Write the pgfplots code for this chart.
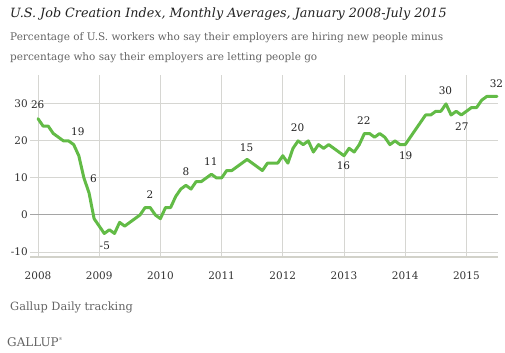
\documentclass[border=0pt]{standalone}
\usepackage{pgfplots}
\pgfplotsset{compat=1.18}
\usepackage{fontspec}
\setmainfont{DejaVu Serif}
\definecolor{jcgreen}{RGB}{98,187,70}
\definecolor{gridgray}{RGB}{214,214,210}
\definecolor{zerogray}{RGB}{165,165,165}
\definecolor{basegray}{RGB}{210,210,202}
\definecolor{titlecol}{RGB}{34,34,34}
\definecolor{subcol}{RGB}{100,100,100}
\definecolor{tickcol}{RGB}{50,50,50}
\pgfplotstableread{
k v
0 26
1 24
2 24
3 22
4 21
5 20
6 20
7 19
8 16
9 10
10 6
11 -1
12 -3
13 -5
14 -4
15 -5
16 -2
17 -3
18 -2
19 -1
20 0
21 2
22 2
23 0
24 -1
25 2
26 2
27 5
28 7
29 8
30 7
31 9
32 9
33 10
34 11
35 10
36 10
37 12
38 12
39 13
40 14
41 15
42 14
43 13
44 12
45 14
46 14
47 14
48 16
49 14
50 18
51 20
52 19
53 20
54 17
55 19
56 18
57 19
58 18
59 17
60 16
61 18
62 17
63 19
64 22
65 22
66 21
67 22
68 21
69 19
70 20
71 19
72 19
73 21
74 23
75 25
76 27
77 27
78 28
79 28
80 30
81 27
82 28
83 27
84 28
85 29
86 29
87 31
88 32
89 32
90 32
}\jobdata
\begin{document}
\begin{tikzpicture}
\path[use as bounding box] (0bp,0bp) rectangle (505bp,353bp);
\node[anchor=base west, inner sep=0pt, font=\fontsize{12.8}{15}\selectfont\itshape, text=titlecol] at (10bp,335bp) {U.S. Job Creation Index, Monthly Averages, January 2008-July 2015};
\node[anchor=base west, inner sep=0pt, font=\fontsize{10.5}{14}\selectfont, text=subcol] at (10bp,312.3bp) {Percentage of U.S. workers who say their employers are hiring new people minus};
\node[anchor=base west, inner sep=0pt, font=\fontsize{10.5}{14}\selectfont, text=subcol] at (10bp,292bp) {percentage who say their employers are letting people go};
\node[anchor=base west, inner sep=0pt, font=\fontsize{11.4}{14}\selectfont, text=subcol] at (10bp,42bp) {Gallup Daily tracking};
\node[anchor=base west, inner sep=0pt, font=\fontsize{12}{14}\selectfont, text=subcol] at (7bp,7bp) {GALLUP\raisebox{0.9ex}{\fontsize{4}{5}\selectfont\textregistered}};
\begin{axis}[
  at={(30bp,96bp)}, anchor=south west, scale only axis,
  width=468bp, height=182bp,
  xmin=-1.57, xmax=90.2, ymin=-11.35, ymax=37.8,
  axis line style={draw=none}, major tick length=0pt,
  xtick={0,12,24,36,48,60,72,84},
  xticklabels={2008,2009,2010,2011,2012,2013,2014,2015},
  ytick={-10,10,20,30},
  extra y ticks={0},
  extra y tick style={grid=major, major grid style={zerogray, line width=1bp}},
  xmajorgrids, ymajorgrids,
  major grid style={gridgray, line width=0.9bp},
  ticklabel style={font=\fontsize{10.5}{13}\selectfont, text=tickcol},
  yticklabel style={anchor=east, inner sep=0pt, xshift=-2bp},
  xticklabel style={anchor=north, inner sep=0pt, yshift=-15bp},
  /pgf/number format/assume math mode=true,
  clip=false,
]
\draw[basegray, line width=2.3bp] (rel axis cs:0,0) -- (rel axis cs:1,0);
\addplot[jcgreen, line width=3bp, line join=round, line cap=round, no marks] table[x=k, y=v] {\jobdata};
\begin{scope}[every node/.style={font=\fontsize{10.5}{13}\selectfont, text=titlecol, inner sep=0pt}]
\node at (axis cs:-0.06,29.7) {26};
\node at (axis cs:7.8,22.5) {19};
\node at (axis cs:10.85,9.9) {6};
\node at (axis cs:13.1,-8.4) {-5};
\node at (axis cs:21.96,5.6) {2};
\node at (axis cs:29.0,11.7) {8};
\node at (axis cs:33.9,14.4) {11};
\node at (axis cs:40.9,18.2) {15};
\node at (axis cs:50.9,23.6) {20};
\node at (axis cs:59.9,13.2) {16};
\node at (axis cs:63.9,25.5) {22};
\node at (axis cs:72.1,15.9) {19};
\node at (axis cs:79.9,33.5) {30};
\node at (axis cs:83.1,23.9) {27};
\node at (axis cs:89.9,35.4) {32};
\end{scope}
\end{axis}
\end{tikzpicture}
\end{document}
